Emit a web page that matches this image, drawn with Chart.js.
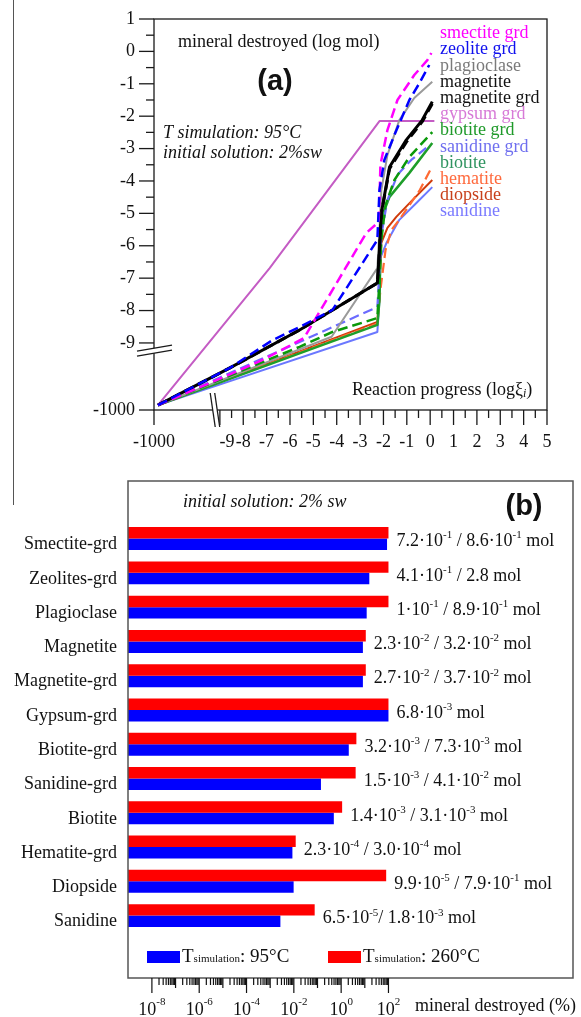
<!DOCTYPE html>
<html>
<head>
<meta charset="utf-8">
<script src="https://cdn.jsdelivr.net/npm/chart.js@4.4.1/dist/chart.umd.min.js"></script>
<style>
  html, body { margin: 0; padding: 0; background: #fff; }
  body { width: 581px; height: 1017px; position: relative; overflow: hidden; }
  #wrapA { position: absolute; left: 0; top: 0; width: 581px; height: 470px; }
  #wrapB { position: absolute; left: 0; top: 470px; width: 581px; height: 547px; }
  #edge { position: absolute; left: 13px; top: 0; width: 1px; height: 505px; background: #555; }
</style>
</head>
<body>
<div id="edge"></div>
<div id="wrapA"><canvas id="chartA"></canvas></div>
<div id="wrapB"><canvas id="chartB"></canvas></div>
<script>
const SERIF = '"Liberation Serif", "Times New Roman", serif';
const SANS = '"Liberation Sans", Arial, sans-serif';

// ---- panel (a): log mineral destroyed (mol) vs log reaction progress
// -1000 is the start point that sits behind both axis breaks
const FAR = -1000;
const xTicksA = [-9, -8, -7, -6, -5, -4, -3, -2, -1, 0, 1, 2, 3, 4, 5];
const yTicksA = [1, 0, -1, -2, -3, -4, -5, -6, -7, -8, -9];

const smectiteGrd = [[FAR, FAR], [-8.5, -9.95], [-7.1, -9.5], [-5.4, -8.85], [-2.73, -5.6], [-2.21, -5.27], [-2.17, -4.59], [-2.13, -3.51], [-1.83, -2.43], [-1.4, -1.5], [-0.68, -0.73], [-0.12, -0.27], [0.05, -0.05]];
const zeoliteGrd = [[FAR, FAR], [-8.57, -9.77], [-6.74, -8.91], [-5.59, -8.51], [-4.18, -7.98], [-2.26, -5.82], [-2.17, -4.28], [-1.96, -3.35], [-1.53, -2.58], [-0.89, -1.5], [-0.46, -0.98], [-0.04, -0.42]];
const plagioclase = [[FAR, FAR], [-4.22, -8.81], [-2.26, -6.69], [-2.17, -5.51], [-2.09, -4.28], [-1.83, -3.2], [-1.32, -2.12], [-0.68, -1.44], [0.09, -0.94]];
const magnetite = [[FAR, FAR], [-8.57, -9.77], [-5.59, -8.6], [-2.26, -7.15], [-2.17, -6.13], [-2.09, -4.99], [-1.74, -3.57], [-1.02, -2.73], [-0.34, -2.12], [0.09, -1.55]];
const magnetiteGrd = [[FAR, FAR], [-8.57, -9.77], [-5.59, -8.6], [-2.26, -7.15], [-2.17, -6.13], [-2.09, -5.0], [-1.74, -3.62], [-1.02, -2.8], [-0.34, -2.17], [0.09, -1.62]];
const gypsumGrd = [[FAR, FAR], [-6.87, -6.69], [-2.17, -2.15], [0.18, -2.15]];
const biotiteGrd = [[FAR, FAR], [-5.59, -9.12], [-4.18, -8.66], [-2.26, -8.23], [-2.17, -7.06], [-2.09, -5.82], [-1.91, -4.74], [-1.53, -3.97], [-0.89, -3.26], [0.09, -2.49]];
const sanidineGrd = [[FAR, FAR], [-5.59, -8.97], [-4.18, -8.51], [-2.26, -7.89], [-2.17, -6.75], [-2.09, -5.67], [-1.83, -4.59], [-1.4, -3.81], [-0.81, -3.35], [-0.17, -2.98]];
const biotite = [[FAR, FAR], [-2.26, -8.44], [-2.17, -7.67], [-2.13, -6.13], [-2.04, -5.05], [-1.74, -4.49], [-0.89, -3.75], [0.09, -2.83]];
const hematite = [[FAR, FAR], [-2.26, -8.4], [-2.13, -7.36], [-1.91, -6.13], [-1.66, -5.51], [-1.32, -5.2], [-0.46, -4.3], [0.05, -3.6]];
const diopside = [[FAR, FAR], [-2.26, -8.35], [-2.17, -7.36], [-2.09, -5.91], [-1.83, -5.45], [-1.45, -5.11], [-0.76, -4.59], [0.09, -3.97]];
const sanidine = [[FAR, FAR], [-2.26, -8.66], [-2.17, -7.67], [-2.17, -6.44], [-1.87, -5.91], [-1.32, -5.2], [-0.59, -4.68], [0.09, -4.19]];

const namesA = ['smectite grd', 'zeolite grd', 'plagioclase', 'magnetite', 'magnetite grd', 'gypsum grd', 'biotite grd', 'sanidine grd', 'biotite', 'hematite', 'diopside', 'sanidine'];
const dataA = [smectiteGrd, zeoliteGrd, plagioclase, magnetite, magnetiteGrd, gypsumGrd, biotiteGrd, sanidineGrd, biotite, hematite, diopside, sanidine];
const lineColorsA = ['#ff00ff', '#0000ff', '#9a9a9a', '#000000', '#000000', '#c45cc4', '#0a990a', '#6b6bff', '#1e9e2a', '#ff6a33', '#d03a0a', '#6b78ff'];
const textColorsA = ['#ff00ff', '#1010ee', '#7a7a7a', '#111111', '#111111', '#d77ad7', '#1f9a2a', '#6f6fef', '#2f9460', '#ff6a3d', '#c8401a', '#7a7aff'];
const dashedA = [true, true, false, false, true, false, true, true, false, true, false, false];
const widthsA = [2.5, 2.5, 2, 3, 3, 2, 2.5, 2.2, 2.5, 2.2, 2, 2];
const orderA = [1, 0, 6, 4, 3, 11, 5, 7, 8, 9, 9, 10]; // lower = drawn on top

// where the far point sits on the broken axes
const FAR_X = -11.65, FAR_Y = -10.92;
const toPoint = ([x, y]) => ({ x: x <= FAR ? FAR_X : x, y: y <= FAR ? FAR_Y : y });

function seg(ctx, x1, y1, x2, y2) {
    ctx.beginPath(); ctx.moveTo(x1, y1); ctx.lineTo(x2, y2); ctx.stroke();
}

// draw pieces of text; {t, size, dy, style}
function richText(ctx, x, y, parts, family) {
    parts.forEach(p => {
        ctx.font = (p.style || '') + ' ' + p.size + 'px ' + family;
        ctx.fillText(p.t, x, y + (p.dy || 0));
        x += ctx.measureText(p.t).width;
    });
    return x;
}

const decorA = {
    id: 'decorA',
    afterDatasetsDraw(chart) {
        const { ctx, chartArea: a, scales: { x, y } } = chart;
        ctx.save();
        ctx.strokeStyle = '#1a1a1a';
        ctx.lineWidth = 1.3;
        ctx.strokeRect(a.left, a.top, a.right - a.left, a.bottom - a.top);

        // ticks
        yTicksA.forEach(v => { const p = y.getPixelForValue(v); seg(ctx, a.left - 15, p, a.left, p); });
        for (let v = -8.5; v < 1; v += 1) { const p = y.getPixelForValue(v); seg(ctx, a.left - 8, p, a.left, p); }
        seg(ctx, a.left - 15, a.bottom, a.left, a.bottom);
        xTicksA.forEach(v => { const p = x.getPixelForValue(v); seg(ctx, p, a.bottom, p, a.bottom + 15); });
        for (let v = -8.5; v < 5; v += 1) { const p = x.getPixelForValue(v); seg(ctx, p, a.bottom, p, a.bottom + 8); }
        seg(ctx, a.left, a.bottom, a.left, a.bottom + 15);

        // axis breaks
        const yb = y.getPixelForValue(-9.16);
        ctx.fillStyle = '#fff';
        ctx.beginPath();
        ctx.moveTo(a.left - 17, yb + 3); ctx.lineTo(a.left + 18, yb - 3);
        ctx.lineTo(a.left + 18, yb + 2); ctx.lineTo(a.left - 17, yb + 8);
        ctx.closePath(); ctx.fill();
        seg(ctx, a.left - 17, yb + 3, a.left + 18, yb - 3);
        seg(ctx, a.left - 17, yb + 8, a.left + 18, yb + 2);
        const xb = x.getPixelForValue(-9.2);
        ctx.beginPath();
        ctx.moveTo(xb - 5, a.bottom - 17); ctx.lineTo(xb - 0.5, a.bottom - 17);
        ctx.lineTo(xb + 4.5, a.bottom + 17); ctx.lineTo(xb, a.bottom + 17);
        ctx.closePath(); ctx.fill();
        seg(ctx, xb - 5, a.bottom - 17, xb, a.bottom + 17);
        seg(ctx, xb - 0.5, a.bottom - 17, xb + 4.5, a.bottom + 17);

        // tick labels
        ctx.fillStyle = '#111';
        ctx.font = '18px ' + SERIF;
        ctx.textBaseline = 'middle';
        ctx.textAlign = 'right';
        yTicksA.forEach(v => ctx.fillText(String(v), a.left - 19, y.getPixelForValue(v)));
        ctx.fillText(String(FAR), a.left - 19, a.bottom);
        ctx.textAlign = 'center';
        xTicksA.forEach(v => ctx.fillText(String(v), x.getPixelForValue(v) + (v === -9 ? 7 : 0), a.bottom + 32));
        ctx.fillText(String(FAR), a.left, a.bottom + 32);

        // texts inside the plot
        ctx.textAlign = 'left';
        ctx.fillText('mineral destroyed (log mol)', 178, 42);
        ctx.font = 'bold 29px ' + SANS;
        ctx.textAlign = 'center';
        ctx.fillText('(a)', 275, 82);
        ctx.textAlign = 'left';
        ctx.font = 'italic 18px ' + SERIF;
        ctx.fillText('T simulation: 95°C', 163, 133);
        ctx.fillText('initial solution: 2%sw', 163, 153);
        ctx.font = '18px ' + SERIF;
        namesA.forEach((n, i) => {
            ctx.fillStyle = textColorsA[i];
            ctx.fillText(n, 440, 33.5 + 16.2 * i);
        });
        ctx.fillStyle = '#111';
        richText(ctx, 352, 390, [
            { t: 'Reaction progress (log', size: 18 },
            { t: 'ξ', size: 18 },
            { t: 'i', size: 12, dy: 4, style: 'italic' },
            { t: ')', size: 18 }
        ], SERIF);
        ctx.restore();
    }
};

new Chart(document.getElementById('chartA'), {
    type: 'line',
    data: {
        datasets: dataA.map((d, i) => ({
            label: namesA[i],
            data: d.map(toPoint),
            borderColor: lineColorsA[i],
            borderWidth: widthsA[i],
            borderDash: dashedA[i] ? [10, 5] : [],
            borderJoinStyle: 'round',
            pointRadius: 0,
            tension: 0,
            fill: false,
            order: orderA[i]
        }))
    },
    options: {
        responsive: true,
        maintainAspectRatio: false,
        animation: false,
        layout: { padding: { left: 154, right: 34, top: 19, bottom: 60 } },
        plugins: { legend: { display: false }, tooltip: { enabled: false } },
        scales: {
            x: { type: 'linear', display: false, min: -11.82, max: 5 },
            y: { type: 'linear', display: false, min: -11.07, max: 1 }
        }
    },
    plugins: [decorA]
});

// ---- panel (b): mineral destroyed (%), log axis
const minerals = ['Smectite-grd', 'Zeolites-grd', 'Plagioclase', 'Magnetite', 'Magnetite-grd', 'Gypsum-grd', 'Biotite-grd', 'Sanidine-grd', 'Biotite', 'Hematite-grd', 'Diopside', 'Sanidine'];
const pct260 = [100, 100, 100, 11, 11, 100, 4.4, 4.1, 1.1, 0.012, 80, 0.076];
const pct95 = [87, 15.5, 12, 8.3, 8.3, 100, 2.1, 0.14, 0.49, 0.0087, 0.0098, 0.0027];
const molLabels = [
    '7.2·10^{-1} / 8.6·10^{-1} mol',
    '4.1·10^{-1} / 2.8 mol',
    '1·10^{-1} / 8.9·10^{-1} mol',
    '2.3·10^{-2} / 3.2·10^{-2} mol',
    '2.7·10^{-2} / 3.7·10^{-2} mol',
    '6.8·10^{-3} mol',
    '3.2·10^{-3} / 7.3·10^{-3} mol',
    '1.5·10^{-3} / 4.1·10^{-2} mol',
    '1.4·10^{-3} / 3.1·10^{-3} mol',
    '2.3·10^{-4} / 3.0·10^{-4} mol',
    '9.9·10^{-5} / 7.9·10^{-1} mol',
    '6.5·10^{-5}/ 1.8·10^{-3} mol'
];
const decadesB = [-8, -7, -6, -5, -4, -3, -2, -1, 0, 1, 2];
const labelDecadesB = [-8, -6, -4, -2, 0, 2];

function supParts(str, size, supSize) {
    const parts = [];
    str.split(/\^\{([^}]*)\}/).forEach((t, i) => {
        if (!t) return;
        parts.push(i % 2 ? { t, size: supSize, dy: -6 } : { t, size });
    });
    return parts;
}

const decorB = {
    id: 'decorB',
    afterDatasetsDraw(chart) {
        const { ctx, chartArea: a, scales: { x, y } } = chart;
        ctx.save();
        ctx.strokeStyle = '#555';
        ctx.lineWidth = 1.5;
        ctx.strokeRect(a.left, a.top, a.right - a.left, a.bottom - a.top);

        // log ticks below the frame
        ctx.strokeStyle = '#111';
        ctx.lineWidth = 1.2;
        decadesB.forEach(e => {
            const p = x.getPixelForValue(Math.pow(10, e));
            seg(ctx, p, a.bottom, p, a.bottom + (e % 2 === 0 ? 15 : 10));
            if (e < 2) {
                for (let m = 2; m < 10; m++) {
                    const q = x.getPixelForValue(m * Math.pow(10, e));
                    seg(ctx, q, a.bottom, q, a.bottom + 7);
                }
            }
        });
        ctx.fillStyle = '#111';
        ctx.textBaseline = 'middle';
        ctx.textAlign = 'left';
        labelDecadesB.forEach(e => {
            const p = x.getPixelForValue(Math.pow(10, e));
            const parts = [{ t: '10', size: 18 }, { t: String(e), size: 11, dy: -8 }];
            ctx.font = '18px ' + SERIF;
            let w = ctx.measureText('10').width;
            ctx.font = '11px ' + SERIF;
            w += ctx.measureText(String(e)).width;
            richText(ctx, p - w / 2, a.bottom + 32, parts, SERIF);
        });
        ctx.font = '18px ' + SERIF;
        ctx.fillText('mineral destroyed (%)', 415, a.bottom + 28);

        // texts in the frame
        ctx.font = 'italic 18px ' + SERIF;
        ctx.fillText('initial solution: 2% sw', 183, a.top + 21);
        ctx.font = 'bold 29px ' + SANS;
        ctx.textAlign = 'center';
        ctx.fillText('(b)', 524, a.top + 26);
        ctx.textAlign = 'left';

        // amounts next to the bars
        molLabels.forEach((s, i) => {
            const end = x.getPixelForValue(Math.max(pct260[i], pct95[i]));
            richText(ctx, end + 8, y.getPixelForValue(i) + 3, supParts(s, 18, 11), SERIF);
        });

        // legend
        const ly = a.bottom - 21;
        [['#0000ff', 147, '95°C'], ['#ff0000', 328, '260°C']].forEach(([c, lx, t]) => {
            ctx.fillStyle = c;
            ctx.fillRect(lx, ly - 6, 33, 12);
            ctx.fillStyle = '#111';
            richText(ctx, lx + 35, ly, [
                { t: 'T', size: 19 },
                { t: 'simulation', size: 11, dy: 2 },
                { t: ': ' + t, size: 19 }
            ], SERIF);
        });
        ctx.restore();
    }
};

new Chart(document.getElementById('chartB'), {
    type: 'bar',
    data: {
        datasets: [
            { label: 'Tsimulation: 260°C', data: pct260.map((v, i) => ({ x: v, y: i })), backgroundColor: '#ff0000' },
            { label: 'Tsimulation: 95°C', data: pct95.map((v, i) => ({ x: v, y: i })), backgroundColor: '#0000ff' }
        ]
    },
    options: {
        indexAxis: 'y',
        responsive: true,
        maintainAspectRatio: false,
        animation: false,
        categoryPercentage: 0.67,
        barPercentage: 1,
        layout: { padding: { left: 0, right: 8, top: 11, bottom: 39 } },
        plugins: { legend: { display: false }, tooltip: { enabled: false } },
        scales: {
            x: { type: 'logarithmic', display: false, min: Math.pow(10, -9.01), max: Math.pow(10, 9.8) },
            y: {
                type: 'linear',
                reverse: true,
                offset: false,
                min: -1.68,
                max: 12.82,
                afterBuildTicks: s => { s.ticks = minerals.map((_, i) => ({ value: i })); },
                afterFit: s => { s.width = 128; s.paddingTop = 0; s.paddingBottom = 0; },
                grid: { display: false, drawTicks: false, offset: false },
                border: { display: false },
                ticks: {
                    padding: 11,
                    labelOffset: 6,
                    color: '#111',
                    font: { family: SERIF, size: 18 },
                    callback: v => minerals[v]
                }
            }
        }
    },
    plugins: [decorB]
});
</script>
</body>
</html>
